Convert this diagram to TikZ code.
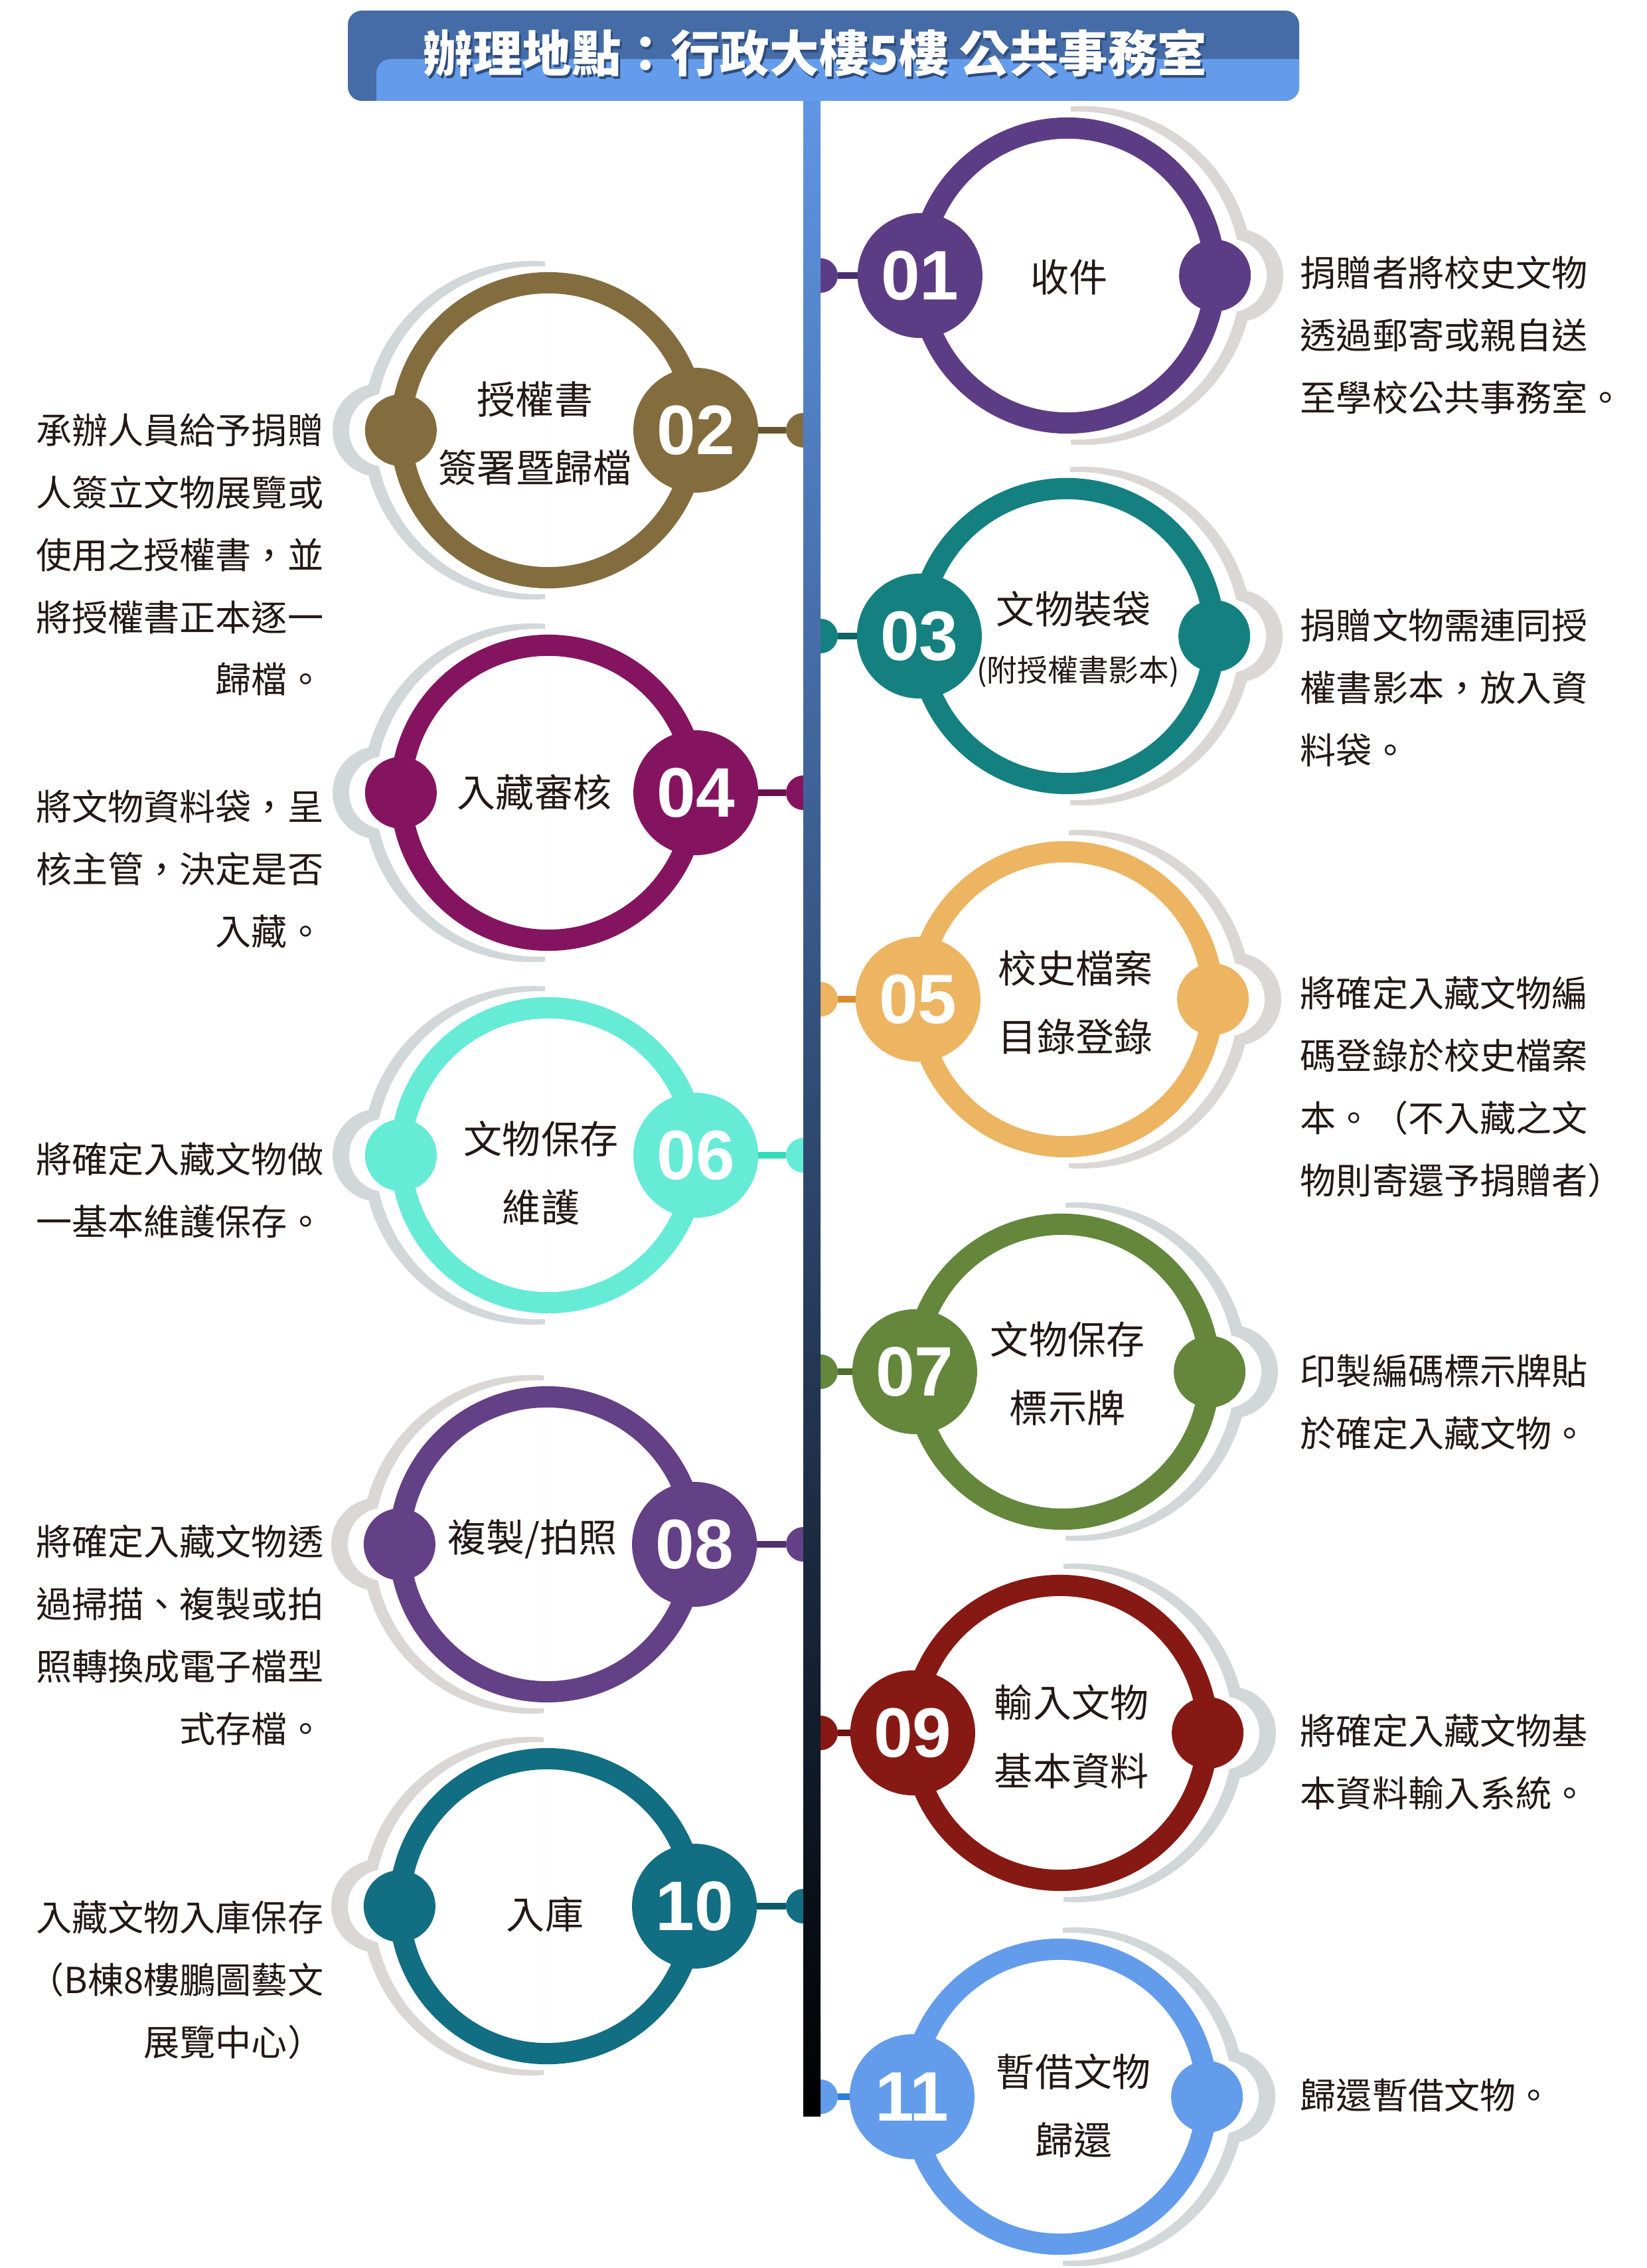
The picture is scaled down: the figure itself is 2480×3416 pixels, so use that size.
\documentclass[tikz,border=0pt]{standalone}
\usepackage{fontspec}
\setmainfont{Noto Sans CJK TC}
\newfontfamily\numfont{Liberation Sans}
\usetikzlibrary{positioning}

\definecolor{ink}{RGB}{35,24,21}
\definecolor{hdark}{RGB}{69,108,166}
\definecolor{hlight}{RGB}{100,156,235}
\definecolor{hshadow}{RGB}{45,75,125}
\definecolor{linetop}{RGB}{96,150,229}
\definecolor{warm}{RGB}{218,215,212}
\definecolor{cool}{RGB}{210,215,217}
\definecolor{c01}{RGB}{92,61,133}   \definecolor{k01}{RGB}{72,45,110}
\definecolor{c02}{RGB}{131,109,62}  \definecolor{k02}{RGB}{100,85,45}
\definecolor{c03}{RGB}{21,128,128}  \definecolor{k03}{RGB}{15,100,100}
\definecolor{c04}{RGB}{133,20,96}   \definecolor{k04}{RGB}{105,15,75}
\definecolor{c05}{RGB}{237,180,97}  \definecolor{k05}{RGB}{220,140,45}
\definecolor{c06}{RGB}{102,235,215} \definecolor{k06}{RGB}{50,220,185}
\definecolor{c07}{RGB}{100,135,60}  \definecolor{k07}{RGB}{80,110,45}
\definecolor{c08}{RGB}{100,64,135}  \definecolor{k08}{RGB}{80,50,110}
\definecolor{c09}{RGB}{135,25,20}   \definecolor{k09}{RGB}{110,20,15}
\definecolor{c10}{RGB}{18,110,130}  \definecolor{k10}{RGB}{15,90,105}
\definecolor{c11}{RGB}{99,156,235}  \definecolor{k11}{RGB}{45,125,225}

\tikzset{
  ring/.style={circle, minimum size=4.44cm, inner sep=0, outer sep=0, line width=9.1pt},
  badge/.style={circle, minimum size=1.88cm, inner sep=0, outer sep=0, text=white,
    font=\numfont\bfseries\fontsize{30pt}{30pt}\selectfont},
  dot/.style={circle, minimum size=1.08cm, inner sep=0, outer sep=0},
  stub/.style={circle, minimum size=0.52cm, inner sep=0, outer sep=0},
  link/.style={line width=3.1pt},
  lab/.style={align=center, inner sep=0, text=ink, font=\fontsize{16.5pt}{29.3pt}\selectfont},
  desc/.style={inner sep=0, text=ink, font=\fontsize{15.4pt}{26.7pt}\selectfont},
  headtext/.style={font=\bfseries\fontsize{21.2pt}{24pt}\selectfont},
}

\begin{document}
\begin{tikzpicture}[x=0.01cm, y=-0.01cm]
  \useasboundingbox (0,0) rectangle (2480,3416);
  \fill[white] (0,0) rectangle (2480,3416);

  % right hand steps
  \foreach \n/\x/\y/\s in {01/1608/415/warm, 03/1607/958/warm, 05/1605/1505/warm,
                           07/1600/2066/cool, 09/1597/2610/cool, 11/1596/3158/cool}{
    \begin{scope}
      \clip (\x+5,\y-300) rectangle (\x+400,\y+300);
      \fill[\s] (\x+25,\y) circle[radius=255] (\x+255,\y) circle[radius=70];
      \fill[white] (\x+14,\y) circle[radius=247] (\x+245,\y) circle[radius=55];
    \end{scope}
    \node[ring, draw=c\n] (r\n) at (\x,\y) {};
    \node[badge, fill=c\n] (b\n) at (r\n.west) {\n};
    \node[dot, fill=c\n] (d\n) at (r\n.east) {};
    \node[stub, fill=c\n] (h\n) at (1236,\y) {};
    \draw[link, draw=k\n] (h\n) -- (b\n);
  }

  % left hand steps
  \foreach \n/\x/\y/\s in {02/826/648/cool, 04/826/1194/cool, 06/826/1740/cool,
                           08/824/2326/warm, 10/824/2871/warm}{
    \begin{scope}
      \clip (\x-5,\y-300) rectangle (\x-400,\y+300);
      \fill[\s] (\x-25,\y) circle[radius=255] (\x-255,\y) circle[radius=70];
      \fill[white] (\x-14,\y) circle[radius=247] (\x-245,\y) circle[radius=55];
    \end{scope}
    \node[ring, draw=c\n] (r\n) at (\x,\y) {};
    \node[badge, fill=c\n] (b\n) at (r\n.east) {\n};
    \node[dot, fill=c\n] (d\n) at (r\n.west) {};
    \node[stub, fill=c\n] (h\n) at (1210,\y) {};
    \draw[link, draw=k\n] (h\n) -- (b\n);
  }

  % time line
  \shade[top color=linetop, bottom color=black] (1210,140) rectangle (1236,3187);

  % header
  \fill[hdark, rounded corners=6pt] (524,16) rectangle (1957,152);
  \begin{scope}
    \clip[rounded corners=6pt] (524,16) rectangle (1957,152);
    \fill[hlight, rounded corners=6pt] (567,89) rectangle (2000,200);
  \end{scope}
  \node[headtext, text=hshadow] (titleshadow) at (1231,84) {辦理地點：行政大樓5樓 公共事務室};
  \node[headtext, text=white] (title) at (1228,80) {辦理地點：行政大樓5樓 公共事務室};

  % step names
  \node[lab] (l01) at (1610,417) {收件};
  \node[lab] (l02) at (806,653) {授權書\\簽署暨歸檔};
  \node[lab] (l03) at (1617,917) {文物裝袋};
  \node[lab, font=\fontsize{13pt}{15pt}\selectfont] (l03b) at (1624,1012) {(附授權書影本)};
  \node[lab] (l04) at (805,1193) {入藏審核};
  \node[lab] (l05) at (1620,1510) {校史檔案\\目錄登錄};
  \node[lab] (l06) at (815,1767) {文物保存\\維護};
  \node[lab] (l07) at (1608,2069) {文物保存\\標示牌};
  \node[lab] (l08) at (802,2318) {複製/拍照};
  \node[lab] (l09) at (1614,2616) {輸入文物\\基本資料};
  \node[lab] (l10) at (821,2883) {入庫};
  \node[lab] (l11) at (1617,3172) {暫借文物\\歸還};

  % descriptions
  \node[desc, anchor=north west, align=left] (t01) at (1958,385) {捐贈者將校史文物\\透過郵寄或親自送\\至學校公共事務室。};
  \node[desc, anchor=north west, align=left] (t03) at (1958,916) {捐贈文物需連同授\\權書影本，放入資\\料袋。};
  \node[desc, anchor=north west, align=left] (t05) at (1958,1470) {將確定入藏文物編\\碼登錄於校史檔案\\本。（不入藏之文\\物則寄還予捐贈者）};
  \node[desc, anchor=north west, align=left] (t07) at (1958,2039) {印製編碼標示牌貼\\於確定入藏文物。};
  \node[desc, anchor=north west, align=left] (t09) at (1958,2581) {將確定入藏文物基\\本資料輸入系統。};
  \node[desc, anchor=north west, align=left] (t11) at (1958,3130) {歸還暫借文物。};
  \node[desc, anchor=north east, align=right] (t02) at (488,622) {承辦人員給予捐贈\\人簽立文物展覽或\\使用之授權書，並\\將授權書正本逐一\\歸檔。};
  \node[desc, anchor=north east, align=right] (t04) at (488,1189) {將文物資料袋，呈\\核主管，決定是否\\入藏。};
  \node[desc, anchor=north east, align=right] (t06) at (488,1720) {將確定入藏文物做\\一基本維護保存。};
  \node[desc, anchor=north east, align=right] (t08) at (488,2296) {將確定入藏文物透\\過掃描、複製或拍\\照轉換成電子檔型\\式存檔。};
  \node[desc, anchor=north east, align=right] (t10) at (488,2862) {入藏文物入庫保存\\（B棟8樓鵬圖藝文\\展覽中心）};
\end{tikzpicture}
\end{document}
